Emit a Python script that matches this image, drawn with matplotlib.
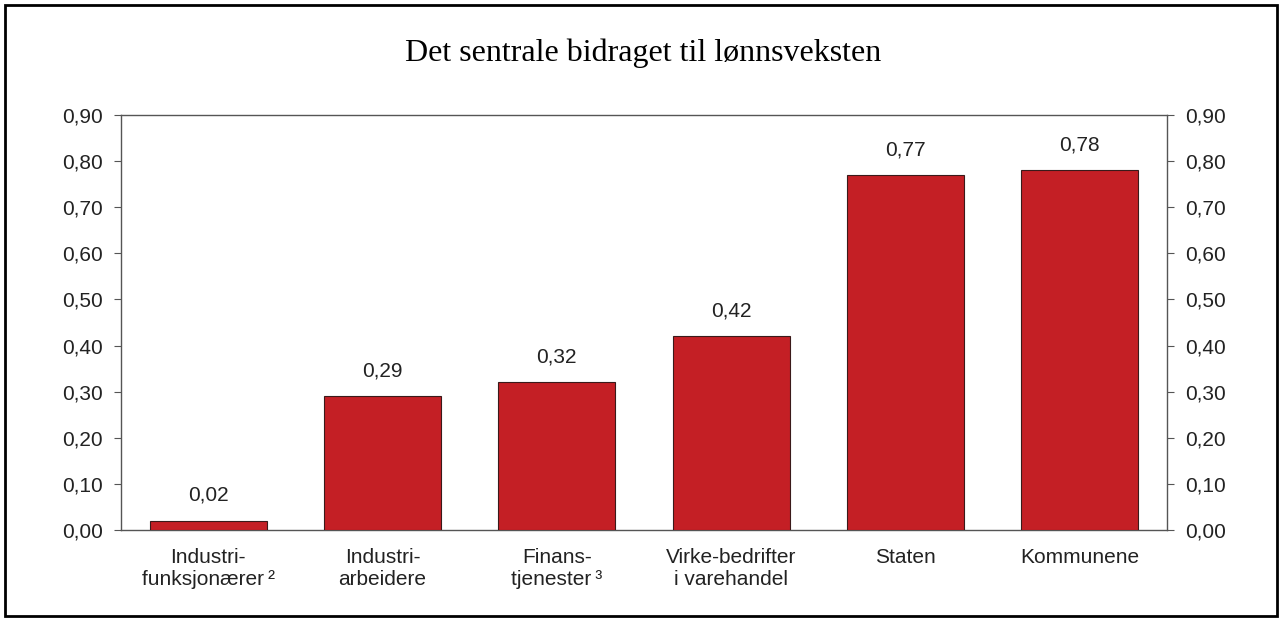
import numpy as np
import matplotlib.pyplot as plt
from matplotlib.patches import Rectangle

categories = ['Industri-\nfunksjonærer\u2009\u00b2', 'Industri-\narbeidere', 'Finans-\ntjenester\u2009\u00b3',
              'Virke-bedrifter\ni varehandel', 'Staten', 'Kommunene']
values = [0.02, 0.29, 0.32, 0.42, 0.77, 0.78]
value_labels = ['0,02', '0,29', '0,32', '0,42', '0,77', '0,78']
yticks = np.arange(0, 0.91, 0.10)

plt.rcParams['font.family'] = ['Liberation Sans', 'DejaVu Sans']

fig = plt.figure(figsize=(12.82, 6.21), dpi=100)
ax = fig.add_axes([121/1282, 1 - 530/621, 1046/1282, 415/621])

x = np.arange(len(categories))
ax.bar(x, values, width=0.67, color='#c41f25', edgecolor='#3a1a1a', linewidth=0.8, zorder=3)
for xi, v, lab in zip(x, values, value_labels):
    ax.text(xi, v + 0.055, lab, ha='center', va='center', fontsize=15, color='#222222')

ax.set_xlim(-0.5, 5.5)
ax.set_ylim(0, 0.9)
ax.set_yticks(yticks)
ax.yaxis.set_major_formatter(plt.FuncFormatter(lambda v, p: ('%.2f' % v).replace('.', ',')))
ax.tick_params(axis='y', direction='out', length=5, labelsize=15, color='#555555',
               labelcolor='#222222', left=True, right=True, labelleft=True, labelright=True, pad=8)
ax.set_xticks(x)
ax.set_xticklabels(categories, fontsize=15, color='#222222', linespacing=1.2)
ax.tick_params(axis='x', length=0, pad=13)
for s in ax.spines.values():
    s.set_color('#555555')
    s.set_linewidth(1.0)

fig.text(643/1282, 1 - 53/621, 'Det sentrale bidraget til lønnsveksten', ha='center', va='center',
         fontsize=23, family=['Liberation Serif', 'DejaVu Serif'])

fig.patches.append(Rectangle((5/1282, 5/621), 1272/1282, 611/621, transform=fig.transFigure,
                             fill=False, edgecolor='black', linewidth=2))

fig.savefig('out.png', dpi=100)
